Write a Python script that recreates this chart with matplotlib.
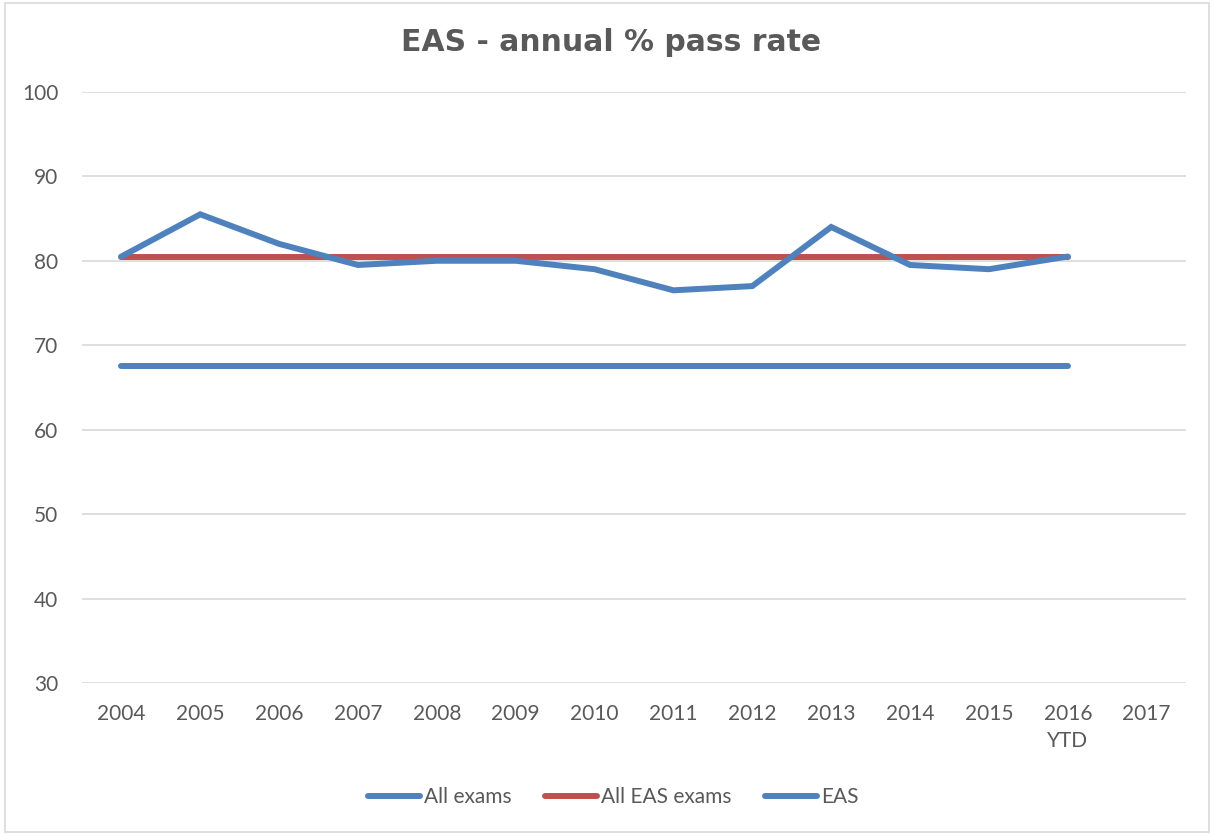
import matplotlib.pyplot as plt
from matplotlib.patches import Rectangle

# data
years = ['2004', '2005', '2006', '2007', '2008', '2009', '2010',
         '2011', '2012', '2013', '2014', '2015', '2016\nYTD', '2017']
all_exams = [67.5] * 13
all_eas_exams = [80.5] * 13
eas = [80.5, 85.5, 82, 79.5, 80, 80, 79, 76.5, 77, 84, 79.5, 79, 80.5]

blue = '#4F81BD'
red = '#C0504D'
grey = '#595959'

plt.rcParams['font.family'] = ['Lato', 'DejaVu Sans']

fig = plt.figure(figsize=(12.14, 8.35), dpi=100)
ax = fig.add_axes([0.0675, 0.182, 0.9095, 0.708])

x = list(range(len(years)))
ax.plot(x[:13], all_exams, color=blue, lw=4.3, solid_capstyle='round', label='All exams')
ax.plot(x[:13], all_eas_exams, color=red, lw=4.3, solid_capstyle='round', label='All EAS exams')
ax.plot(x[:13], eas, color=blue, lw=4.3, solid_capstyle='round', solid_joinstyle='miter', label='EAS')

ax.set_xlim(-0.5, 13.5)
ax.set_ylim(30, 100)
ax.set_yticks(range(30, 101, 10))
ax.set_xticks(x)
ax.set_xticklabels(years, linespacing=1.45)
ax.grid(axis='y', color='#D9D9D9', lw=1.2)
ax.set_axisbelow(True)
for s in ax.spines.values():
    s.set_visible(False)
ax.tick_params(length=0, labelsize=15, labelcolor=grey)
ax.tick_params(axis='x', pad=15)
ax.tick_params(axis='y', pad=17)

fig.text(0.503, 0.949, 'EAS - annual % pass rate', ha='center', va='center',
         fontsize=21.5, fontweight='bold', color=grey, family='DejaVu Sans')

leg = fig.legend(loc='center', bbox_to_anchor=(0.505, 0.0455), ncol=3, frameon=False,
                 fontsize=15, handlelength=2.5, handletextpad=0.2, columnspacing=1.6,
                 labelcolor=grey)

fig.patches.append(Rectangle((0.004, 0.004), 0.992, 0.992, transform=fig.transFigure,
                             fill=False, edgecolor='#D9D9D9', lw=1.2))

plt.savefig('out.png', dpi=100)
